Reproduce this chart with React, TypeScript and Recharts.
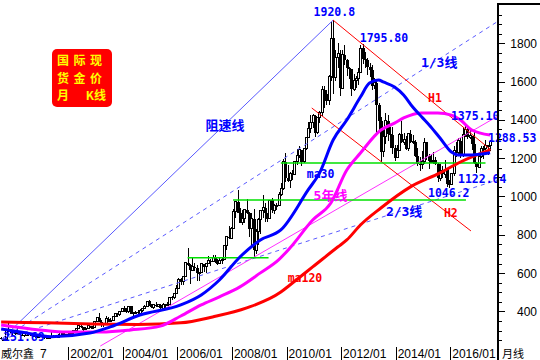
import React from 'react';
import { ComposedChart, Bar, Line, Scatter, XAxis, YAxis, ReferenceLine } from 'recharts';

// monthly bars, [open, high, low, close]; index 0 = 1999/07
type K = [number, number, number, number];

const k1999: K[] = [[262, 264, 251.7, 255], [255, 261, 252, 255], [255, 307, 253, 299], [299, 338, 295, 300], [300, 305, 288, 292], [292, 293, 276, 290]];
const k2000: K[] = [[290, 293, 279, 284], [284, 315, 280, 293], [293, 296, 275, 278], [278, 286, 270, 275], [275, 279, 267, 272], [272, 294, 271, 288], [288, 292, 274, 276], [276, 280, 271, 277], [277, 278, 266, 273], [273, 276, 263, 264], [264, 271, 263, 269], [269, 276, 267, 273]];
const k2001: K[] = [[273, 273, 262, 265], [265, 269, 255, 267], [267, 268, 255, 258], [258, 266, 255, 264], [264, 293, 263, 267], [267, 276, 266, 271], [271, 272, 264, 266], [266, 280, 265, 273], [273, 294, 270, 293], [293, 293, 276, 279], [279, 280, 270, 275], [275, 281, 272, 279]];
const k2002: K[] = [[279, 284, 277, 282], [282, 303, 282, 297], [297, 304, 289, 302], [302, 310, 300, 308], [308, 327, 307, 326], [326, 330, 313, 318], [318, 321, 300, 304], [304, 318, 302, 312], [312, 327, 310, 324], [324, 325, 313, 317], [317, 322, 315, 317], [317, 349, 316, 347]];
const k2003: K[] = [[347, 372, 342, 368], [368, 389, 346, 347], [347, 354, 320, 334], [334, 341, 321, 337], [337, 375, 336, 361], [361, 372, 343, 346], [346, 368, 342, 354], [354, 378, 350, 375], [375, 390, 371, 388], [388, 392, 369, 384], [384, 399, 376, 398], [398, 417, 395, 416]];
const k2004: K[] = [[416, 427, 399, 402], [402, 420, 392, 397], [397, 428, 390, 426], [426, 430, 386, 388], [388, 396, 372, 394], [394, 400, 384, 395], [395, 409, 385, 391], [391, 415, 388, 407], [407, 420, 398, 415], [415, 431, 411, 428], [428, 456, 427, 453], [453, 457, 430, 438]];
const k2005: K[] = [[438, 440, 418, 422], [422, 438, 411, 435], [435, 447, 423, 428], [428, 438, 421, 435], [435, 436, 414, 417], [417, 443, 414, 437], [437, 438, 418, 430], [430, 447, 430, 434], [434, 474, 433, 473], [473, 480, 460, 470], [470, 497, 463, 495], [495, 540, 490, 517]];
const k2006: K[] = [[517, 575, 516, 568], [568, 573, 537, 556], [556, 586, 537, 582], [582, 655, 581, 654], [654, 731, 637, 643], [643, 647, 543, 614], [614, 677, 610, 633], [633, 653, 613, 624], [624, 642, 560, 599], [599, 607, 560, 604], [604, 650, 602, 648], [648, 648, 605, 632]];
const k2007: K[] = [[632, 653, 603, 650], [650, 690, 648, 665], [665, 672, 637, 663], [663, 694, 662, 679], [679, 692, 651, 657], [657, 672, 640, 650], [650, 684, 648, 665], [665, 677, 646, 673], [673, 745, 669, 743], [743, 795, 720, 789], [789, 846, 780, 783], [783, 840, 776, 834]];
const k2008: K[] = [[834, 934, 832, 923], [923, 975, 885, 972], [972, 1033, 916, 916], [916, 940, 862, 864], [864, 928, 849, 887], [887, 935, 861, 930], [930, 988, 910, 913], [913, 917, 786, 832], [832, 912, 740, 884], [884, 934, 681, 718], [718, 829, 700, 815], [815, 890, 745, 882]];
const k2009: K[] = [[882, 931, 802, 927], [927, 1007, 890, 942], [942, 964, 866, 916], [916, 916, 865, 883], [883, 981, 882, 979], [979, 990, 913, 927], [927, 959, 908, 954], [954, 965, 929, 955], [955, 1025, 950, 1008], [1008, 1070, 1003, 1040], [1040, 1195, 1033, 1182], [1182, 1227, 1075, 1096]];
const k2010: K[] = [[1096, 1163, 1075, 1081], [1081, 1129, 1045, 1118], [1118, 1138, 1088, 1113], [1113, 1180, 1111, 1180], [1180, 1249, 1163, 1212], [1212, 1266, 1202, 1244], [1244, 1245, 1157, 1181], [1181, 1250, 1177, 1248], [1248, 1311, 1242, 1307], [1307, 1388, 1308, 1357], [1357, 1425, 1330, 1386], [1386, 1432, 1360, 1421]];
const k2011: K[] = [[1421, 1424, 1308, 1332], [1332, 1411, 1325, 1410], [1410, 1447, 1384, 1439], [1439, 1576, 1419, 1556], [1556, 1577, 1462, 1536], [1536, 1556, 1478, 1500], [1500, 1632, 1480, 1628], [1628, 1913, 1602, 1825], [1825, 1920.8, 1535, 1620], [1620, 1764, 1604, 1725], [1725, 1803, 1672, 1746], [1746, 1764, 1523, 1565]];
const k2012: K[] = [[1565, 1764, 1563, 1740], [1740, 1791, 1689, 1710], [1710, 1720, 1627, 1669], [1669, 1678, 1613, 1664], [1664, 1667, 1527, 1560], [1560, 1640, 1549, 1604], [1604, 1627, 1564, 1614], [1614, 1671, 1582, 1648], [1648, 1790, 1646, 1773], [1773, 1795.8, 1692, 1720], [1720, 1755, 1672, 1712], [1712, 1724, 1636, 1675]];
const k2013: K[] = [[1675, 1696, 1626, 1662], [1662, 1684, 1555, 1578], [1578, 1617, 1562, 1595], [1595, 1605, 1321, 1476], [1476, 1487, 1338, 1393], [1393, 1416, 1180, 1234], [1234, 1348, 1207, 1313], [1313, 1434, 1272, 1396], [1396, 1424, 1291, 1327], [1327, 1362, 1251, 1323], [1323, 1362, 1222, 1253], [1253, 1267, 1187, 1202]];
const k2014: K[] = [[1202, 1270, 1200, 1240], [1240, 1332, 1238, 1326], [1326, 1392, 1277, 1284], [1284, 1331, 1268, 1296], [1296, 1315, 1241, 1250], [1250, 1332, 1240, 1327], [1327, 1345, 1281, 1282], [1282, 1323, 1273, 1287], [1287, 1293, 1206, 1210], [1210, 1255, 1160, 1171], [1171, 1208, 1131, 1167], [1167, 1238, 1142, 1184]];
const k2015: K[] = [[1184, 1307, 1167, 1283], [1283, 1284, 1191, 1213], [1213, 1224, 1142, 1183], [1183, 1224, 1175, 1183], [1183, 1232, 1170, 1190], [1190, 1205, 1162, 1172], [1172, 1175, 1077, 1095], [1095, 1170, 1080, 1133], [1133, 1157, 1098, 1115], [1115, 1191, 1098, 1142], [1142, 1143, 1052, 1065], [1065, 1088, 1046.2, 1061]];
const k2016: K[] = [[1061, 1125, 1061, 1118], [1118, 1263, 1107, 1238], [1238, 1283, 1208, 1232], [1232, 1304, 1209, 1292], [1292, 1303, 1200, 1215], [1215, 1362, 1208, 1322], [1322, 1375.1, 1310, 1350], [1350, 1367, 1301, 1309], [1309, 1352, 1302, 1316], [1316, 1318, 1241, 1273], [1273, 1338, 1171, 1173], [1173, 1180, 1122.6, 1152]];
const k2017: K[] = [[1152, 1220, 1147, 1211], [1211, 1264, 1200, 1249], [1249, 1262, 1195, 1249], [1249, 1295, 1241, 1268], [1268, 1270, 1214, 1268], [1268, 1296, 1236, 1288.5]];

// moving averages: [month index, value]
const ma30: [number, number][] = [[0, 308], [10, 290], [22, 268], [39, 287], [48, 319], [61, 381], [79, 434], [88, 486], [96, 564], [105, 684], [114, 773], [123, 825], [135, 1034], [140, 1122], [146, 1295], [152, 1399], [158, 1519], [162, 1592], [166, 1608], [168, 1598], [173, 1572], [177, 1530], [181, 1467], [185, 1415], [189, 1363], [193, 1305], [198, 1232], [201, 1217], [207, 1217], [215, 1228]];
const ma60: [number, number][] = [[0, 329], [17, 303], [29, 292], [44, 292], [57, 303], [70, 323], [79, 376], [88, 434], [96, 476], [105, 528], [114, 601], [122, 669], [127, 731], [137, 877], [145, 966], [152, 1138], [158, 1227], [167, 1347], [173, 1383], [177, 1410], [185, 1436], [192, 1436], [198, 1425], [202, 1399], [207, 1347], [215, 1321]];
const ma120: [number, number][] = [[0, 345], [20, 340], [40, 334], [60, 332], [79, 340], [93, 371], [108, 418], [123, 501], [127, 538], [137, 632], [148, 736], [152, 773], [158, 851], [167, 940], [180, 1050], [193, 1123], [202, 1180], [215, 1243]];

// trend lines: [[i0, v0], [i1, v1]]
const speedMain: [number, number][] = [[0, 252], [146, 1920.8]];
const speedDashed: [number, number][][] = [[[0, 252], [218.5, 1915]], [[0, 252], [218.5, 1087]]];
const pinkLine: [number, number][] = [[43.6, 219], [218.5, 1420]];
const redLines: [number, number][][] = [[[146, 1920.8], [215.4, 1243]], [[136.6, 1462], [206.6, 820]]];
const greenLines: [number, number][][] = [[[82, 680], [117.6, 680]], [[102, 982], [204.4, 982]], [[123, 1175], [213, 1175]]];

// text notes: [month index, value, text]
const blueNotes: [number, number, string][] = [[137.4, 1963, '1920.8'], [157.7, 1828, '1795.80'], [184.6, 1697, '1/3线'], [197.8, 1420, '1375.10'], [214.1, 1305, '1288.53'], [200.9, 1091, '1122.64'], [187.7, 1018, '1046.2'], [169.2, 919, '2/3线'], [134.4, 1117, 'ma30'], [89.9, 1373, '阻速线'], [0.9, 266, '251.69']];
const redNotes: [number, number, string][] = [[187.7, 1514, 'H1'], [194.7, 914, 'H2'], [126, 574, 'ma120']];
const pinkNotes: [number, number, string][] = [[137.4, 1003, '5年线']];

const titleLines = ['国际现', '货金价'];
const xLabels = ['2002/01', '2004/01', '2006/01', '2008/01', '2010/01', '2012/01', '2014/01', '2016/01'];
const yTicks = [250, 300, 350, 400, 450, 500, 550, 600, 650, 700, 750, 800, 850, 900, 950, 1000, 1050, 1100, 1150, 1200, 1250, 1300, 1350, 1400, 1450, 1500, 1550, 1600, 1650, 1700, 1750, 1800, 1850, 1900, 1950];

const bars = [...k1999, ...k2000, ...k2001, ...k2002, ...k2003, ...k2004, ...k2005, ...k2006, ...k2007, ...k2008, ...k2009, ...k2010, ...k2011, ...k2012, ...k2013, ...k2014, ...k2015, ...k2016, ...k2017]
  .map(([o, h, l, c], i) => ({ i, o, c, hl: [l, h] }));
const pts = (a: [number, number][]) => a.map(([i, v]) => ({ i, v }));
const notes = (a: [number, number, string][]) => a.map(([i, v, t]) => ({ i, v, t }));
const xTickIdx = xLabels.map((s) => {
  const [y, m] = s.split('/').map(Number);
  return (y - 1999) * 12 + m - 7 - 0.5;
});

const AXIS_FONT = '"Liberation Sans", Arial, sans-serif';
const NOTE_FONT = '"DejaVu Sans Mono", "Noto Sans CJK SC", monospace';
const CJK_FONT = '"Noto Sans CJK SC", sans-serif';
const CJK = /[\u4e00-\u9fff]/;

const Candle = (p: any) => {
  const { x, y, width, height, payload } = p;
  if (x == null || !payload) return null;
  const cx = Math.round(x + width / 2) + 0.5;
  const [lo, hi] = payload.hl;
  const toY = (v: number) => (hi === lo ? y : y + ((hi - v) / (hi - lo)) * height);
  const yo = toY(payload.o);
  const yc = toY(payload.c);
  const top = Math.min(yo, yc);
  const bh = Math.max(Math.abs(yo - yc), 1);
  const up = payload.c >= payload.o;
  return (
    <g shapeRendering="crispEdges">
      <line x1={cx} x2={cx} y1={y} y2={y + height} stroke="#000" strokeWidth={1} />
      {up ? (
        <rect x={cx - 1} y={top} width={2} height={bh} fill="#fff" stroke="#000" strokeWidth={1} />
      ) : (
        <rect x={cx - 1.5} y={top} width={3} height={bh} fill="#000" />
      )}
    </g>
  );
};

const noteShape = (color: string) => (p: any) => {
  const t: string = p.payload.t;
  return (
    <text x={p.cx} y={p.cy} dominantBaseline="central" fill={color} fontFamily={NOTE_FONT}
      fontWeight="bold" fontSize={CJK.test(t) ? 13 : 11.5}>{t}</text>
  );
};

const PriceTick = (p: any) => {
  const v = p.payload.value;
  const major = v % 200 === 0;
  return (
    <g>
      <line x1={p.x} x2={p.x + (major ? 7 : 4)} y1={Math.round(p.y) + 0.5} y2={Math.round(p.y) + 0.5}
        stroke="#000" shapeRendering="crispEdges" />
      {major && (
        <text x={537} y={p.y + 4.5} textAnchor="end" fill="#000" fontFamily={AXIS_FONT} fontSize={12}>{v}</text>
      )}
    </g>
  );
};

const MonthTick = (p: any) => {
  const k = xTickIdx.indexOf(p.payload.value);
  const lx = Math.round(p.x) + 0.5;
  return (
    <g>
      <line x1={lx} x2={lx} y1={p.y} y2={360} stroke="#000" shapeRendering="crispEdges" />
      <text x={p.x + 2} y={358} fill="#000" fontFamily={AXIS_FONT} fontSize={12}>{xLabels[k]}</text>
    </g>
  );
};

const seg = (s: [number, number][]) => [{ x: s[0][0], y: s[0][1] }, { x: s[1][0], y: s[1][1] }];

export default function App() {
  return (
    <div style={{ position: 'absolute', left: 0, top: 0, width: 540, height: 360, background: '#fff' }}>
      <ComposedChart width={540} height={360} data={bars} margin={{ top: 4, right: 0, bottom: 0, left: 0 }}>
        <XAxis dataKey="i" type="number" domain={[-0.5, 218.5]} ticks={xTickIdx} interval={0}
          height={13} tickSize={0} tickMargin={0} axisLine={false} tick={<MonthTick />} />
        <YAxis type="number" orientation="right" width={42} domain={[214, 2005]} ticks={yTicks}
          interval={0} tickSize={0} tickMargin={0} axisLine={false} tick={<PriceTick />} />

        <ReferenceLine segment={seg(speedMain)} stroke="#5a5aff" strokeWidth={1} ifOverflow="visible" />
        {speedDashed.map((s, k) => (
          <ReferenceLine key={`sd${k}`} segment={seg(s)} stroke="#5a5aff" strokeWidth={1} strokeDasharray="4 4" ifOverflow="visible" />
        ))}
        <ReferenceLine segment={seg(pinkLine)} stroke="#ff30ff" strokeWidth={1} ifOverflow="visible" />
        {redLines.map((s, k) => (
          <ReferenceLine key={`rl${k}`} segment={seg(s)} stroke="#ff0000" strokeWidth={1} ifOverflow="visible" />
        ))}
        {greenLines.map((s, k) => (
          <ReferenceLine key={`gl${k}`} segment={seg(s)} stroke="#00e000" strokeWidth={1.5} ifOverflow="visible" />
        ))}

        <Bar dataKey="hl" barSize={2} shape={<Candle />} isAnimationActive={false} />

        <Line data={pts(ma120)} dataKey="v" type="monotone" stroke="#ff0000" strokeWidth={3} dot={false} isAnimationActive={false} />
        <Line data={pts(ma60)} dataKey="v" type="monotone" stroke="#ff00ff" strokeWidth={3} dot={false} isAnimationActive={false} />
        <Line data={pts(ma30)} dataKey="v" type="monotone" stroke="#0000ff" strokeWidth={3} dot={false} isAnimationActive={false} />

        <Scatter data={notes(blueNotes)} dataKey="v" shape={noteShape('#0000ff')} isAnimationActive={false} />
        <Scatter data={notes(redNotes)} dataKey="v" shape={noteShape('#ff0000')} isAnimationActive={false} />
        <Scatter data={notes(pinkNotes)} dataKey="v" shape={noteShape('#ff00ff')} isAnimationActive={false} />
      </ComposedChart>

      <svg width={540} height={360} style={{ position: 'absolute', left: 0, top: 0, pointerEvents: 'none' }}>
        <rect x={497} y={3} width={2} height={357} fill="#000" />
        <rect x={497} y={3} width={43} height={2} fill="#000" />
        <rect x={52} y={49} width={60} height={58} rx={5} fill="#ff0000" />
        <g fill="#ffff00" fontFamily={CJK_FONT} fontWeight="bold" fontSize={12}>
          {titleLines.map((s, k) => (
            <text key={s} x={57} y={65 + k * 17.5} letterSpacing={4.5}>{s}</text>
          ))}
          <text x={57} y={100}>月</text>
          <text x={106} y={100} textAnchor="end">K线</text>
        </g>
        <rect x={0} y={348} width={67} height={12} fill="#fff" />
        <text x={1} y={358} fill="#000" fontFamily={CJK_FONT} fontSize={11}>威尔鑫</text>
        <text x={40} y={358} fill="#000" fontFamily={AXIS_FONT} fontSize={12}>7</text>
        <text x={502} y={358} fill="#000" fontFamily={CJK_FONT} fontSize={11}>月线</text>
      </svg>
    </div>
  );
}
